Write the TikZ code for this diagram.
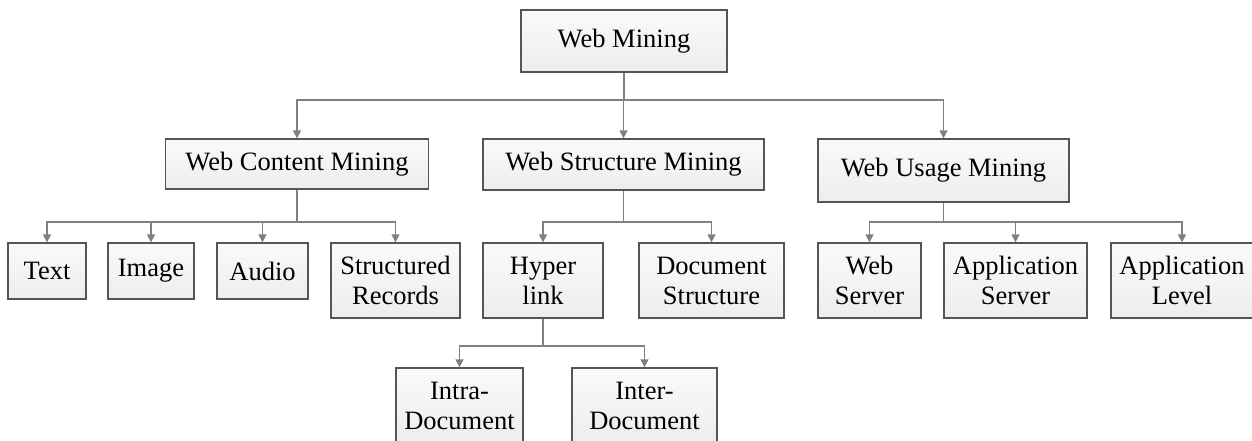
\documentclass[tikz,border=0pt]{standalone}
\usepackage{fontspec}
\setmainfont{Liberation Serif}
\usetikzlibrary{arrows.meta}
\definecolor{boxline}{HTML}{555555}
\definecolor{connline}{HTML}{808080}
\tikzset{
  box/.style={draw=boxline, line width=1.3pt, top color=black!2, bottom color=black!7,
    inner sep=0pt, align=center, font=\fontsize{26.5}{30}\selectfont, text=black},
  conn/.style={draw=connline, line width=1.4pt, -{Triangle[width=8pt,length=8pt]}}
}
\begin{document}
\begin{tikzpicture}[x=1pt,y=-1pt]
\clip (0,0) rectangle (1252,441);
\fill[white] (0,0) rectangle (1252,441);
% level 1
\node[box, minimum width=206pt, minimum height=62pt] (wm) at (624,41) {Web Mining};
% level 2
\node[box, minimum width=263pt, minimum height=50pt] (wcm) at (297,164) {Web Content Mining};
\node[box, minimum width=281pt, minimum height=51pt] (wsm) at (623.5,164.5) {Web Structure Mining};
\node[box, minimum width=251pt, minimum height=63pt] (wum) at (943.5,170.5) {Web Usage Mining};
% level 3
\node[box, minimum width=78pt, minimum height=56pt] (text) at (47,271) {Text};
\node[box, minimum width=86pt, minimum height=56pt] (image) at (151,271) {Image};
\node[box, minimum width=91pt, minimum height=56pt] (audio) at (262.5,271) {Audio};
\node[box, minimum width=129pt, minimum height=75pt] (srec) at (395.5,280.5) {Structured\\Records};
\node[box, minimum width=120pt, minimum height=75pt] (hyper) at (543,280.5) {Hyper\\link};
\node[box, minimum width=145pt, minimum height=75pt] (dstr) at (711.5,280.5) {Document\\Structure};
\node[box, minimum width=103pt, minimum height=75pt] (wsrv) at (869.5,280.5) {Web\\Server};
\node[box, minimum width=143pt, minimum height=75pt] (asrv) at (1015.5,280.5) {Application\\Server};
\node[box, minimum width=142pt, minimum height=75pt] (alvl) at (1182,280.5) {Application\\Level};
% level 4
\node[box, minimum width=127pt, minimum height=75pt] (intra) at (459.5,405.5) {Intra-\\Document};
\node[box, minimum width=145pt, minimum height=75pt] (inter) at (644.5,405.5) {Inter-\\Document};
% bus coordinates
\coordinate (b1) at (624,100);
\coordinate (b2) at (297,222);
\coordinate (b3) at (623.5,222);
\coordinate (b4) at (943.5,222);
\coordinate (b5) at (543,346);
% connectors
\foreach \c in {wcm,wsm,wum} \draw[conn] (wm.south) -- (b1) -| (\c.north);
\foreach \c in {text,image,audio,srec} \draw[conn] (wcm.south) -- (b2) -| (\c.north);
\foreach \c in {hyper,dstr} \draw[conn] (wsm.south) -- (b3) -| (\c.north);
\foreach \c in {wsrv,asrv,alvl} \draw[conn] (wum.south) -- (b4) -| (\c.north);
\foreach \c in {intra,inter} \draw[conn] (hyper.south) -- (b5) -| (\c.north);
\end{tikzpicture}
\end{document}
